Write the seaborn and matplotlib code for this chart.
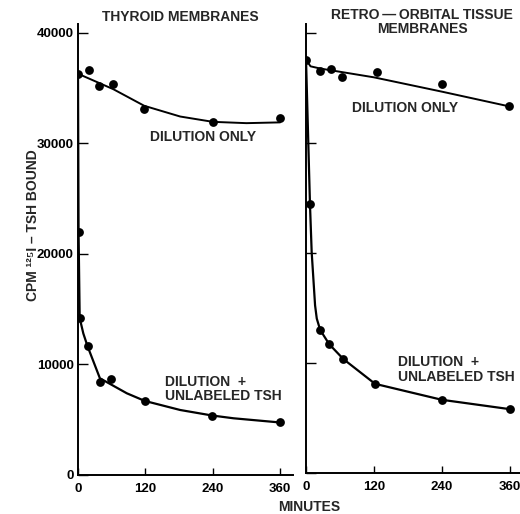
import matplotlib
matplotlib.use("Agg")
import matplotlib.pyplot as plt
import seaborn as sns
import pandas as pd

# ---- data ----
# Thyroid membranes, dilution only (points)
thy_dil_t = [0, 20, 38, 62, 118, 240, 359]
thy_dil_y = [36300, 36600, 35200, 35350, 33100, 31900, 32300]
# Thyroid membranes, dilution + unlabeled TSH (points)
thy_tsh_t = [1, 3, 17, 40, 58, 119, 239, 360]
thy_tsh_y = [22000, 14200, 11700, 8450, 8650, 6650, 5350, 4750]
# fitted curves
thy_dil_curve_t = [0, 63, 118, 182, 240, 300, 360]
thy_dil_curve_y = [36300, 34900, 33400, 32430, 31950, 31830, 31900]
thy_tsh_curve_t = [0, 1, 3, 9.5, 17, 39, 87, 119, 182, 239, 277, 360]
thy_tsh_curve_y = [36300, 22000, 14200, 12800, 11650, 8750, 7390, 6700, 5880, 5380, 5130, 4750]

# Retro-orbital tissue membranes, dilution only (points)
ret_dil_t = [0, 25, 44, 63, 125, 240, 359]
ret_dil_y = [37550, 36550, 36750, 35950, 36400, 35300, 33300]
# Retro-orbital, dilution + unlabeled TSH (points)
ret_tsh_t = [7, 25, 41, 66, 122, 240, 360]
ret_tsh_y = [24400, 13000, 11700, 10350, 8100, 6650, 5800]
ret_dil_curve_t = [0, 8, 25, 120, 240, 360]
ret_dil_curve_y = [37550, 36950, 36750, 35950, 34650, 33300]
ret_tsh_curve_t = [0, 7, 10, 16, 19, 25, 41, 66, 122, 240, 360]
ret_tsh_curve_y = [37550, 24400, 20060, 15230, 14030, 13000, 11700, 10350, 8100, 6650, 5800]

x_ticks = [0, 120, 240, 360]
y_ticks = [0, 10000, 20000, 30000, 40000]

# ---- style ----
sns.set_theme(style="white")
plt.rcParams["font.family"] = ["Liberation Sans", "DejaVu Sans"]
plt.rcParams["font.weight"] = "bold"

FS = 10

fig = plt.figure(figsize=(5.2, 5.14), dpi=100)
axL = fig.add_axes([0.150, 0.0759, 0.4135, 0.8774])
axR = fig.add_axes([0.5885, 0.0798, 0.4190, 0.8736])

def draw(ax, pt_t, pt_y, pt2_t, pt2_y, c1t, c1y, c2t, c2y):
    d1 = pd.DataFrame({"t": c1t, "y": c1y})
    d2 = pd.DataFrame({"t": c2t, "y": c2y})
    sns.lineplot(data=d1, x="t", y="y", ax=ax, color="black", lw=1.4,
                 sort=False, estimator=None)
    sns.lineplot(data=d2, x="t", y="y", ax=ax, color="black", lw=1.6,
                 sort=False, estimator=None)
    p1 = pd.DataFrame({"t": pt_t, "y": pt_y})
    p2 = pd.DataFrame({"t": pt2_t, "y": pt2_y})
    sns.scatterplot(data=p1, x="t", y="y", ax=ax, color="black", s=40,
                    edgecolor="black", linewidth=0, zorder=5)
    sns.scatterplot(data=p2, x="t", y="y", ax=ax, color="black", s=40,
                    edgecolor="black", linewidth=0, zorder=5)
    ax.set_ylim(0, 40800)
    ax.set_xticks(x_ticks)
    ax.set_yticks(y_ticks)
    ax.set_xlabel("")
    ax.set_ylabel("")
    for s in ["top", "right"]:
        ax.spines[s].set_visible(False)
    for s in ["left", "bottom"]:
        ax.spines[s].set_color("black")
        ax.spines[s].set_linewidth(1.4)
    ax.tick_params(axis="both", direction="in", color="black", width=1.0,
                   labelsize=9.5, labelcolor="black", bottom=True, left=True)
    ax.tick_params(axis="y", length=7, pad=3)
    ax.tick_params(axis="x", length=5, pad=6)
    ax.set_facecolor("none")
    for lab in ax.get_xticklabels() + ax.get_yticklabels():
        lab.set_fontweight("bold")

draw(axL, thy_dil_t, thy_dil_y, thy_tsh_t, thy_tsh_y,
     thy_dil_curve_t, thy_dil_curve_y, thy_tsh_curve_t, thy_tsh_curve_y)
axL.set_xlim(0, 383)
axL.set_yticklabels([str(v) for v in y_ticks])

draw(axR, ret_dil_t, ret_dil_y, ret_tsh_t, ret_tsh_y,
     ret_dil_curve_t, ret_dil_curve_y, ret_tsh_curve_t, ret_tsh_curve_y)
axR.set_xlim(0, 385)
axR.set_yticklabels([])

# titles
fig.text(180 / 520, 1 - 17 / 514, "THYROID MEMBRANES", ha="center", va="center",
         fontsize=FS, fontweight="bold")
fig.text(422 / 520, 1 - 22 / 514, "RETRO\u2009\u2014\u2009ORBITAL TISSUE\nMEMBRANES", ha="center",
         va="center", fontsize=FS, fontweight="bold", linespacing=0.95)

# annotations
axL.text(203 / 1.0 * 0 + 223, 30540, "DILUTION ONLY", ha="center", va="center", fontsize=FS,
         fontweight="bold")
axL.text(155, 7780, "DILUTION  +\nUNLABELED TSH", ha="left", va="center", fontsize=FS,
         fontweight="bold", linespacing=1.05)
axR.text(175, 33120, "DILUTION ONLY", ha="center", va="center", fontsize=FS, fontweight="bold")
axR.text(163, 9410, "DILUTION  +\nUNLABELED TSH", ha="left", va="center", fontsize=FS,
         fontweight="bold", linespacing=1.05)

fig.text(309 / 520, 1 - 507 / 514, "MINUTES", ha="center", va="center", fontsize=FS,
         fontweight="bold")
fig.text(33 / 520, 1 - 225 / 514, "CPM \u00b9\u00b2\u2075I \u2013 TSH BOUND", ha="center",
         va="center", rotation=90, fontsize=FS, fontweight="bold")

fig.savefig("out.png", dpi=100)
